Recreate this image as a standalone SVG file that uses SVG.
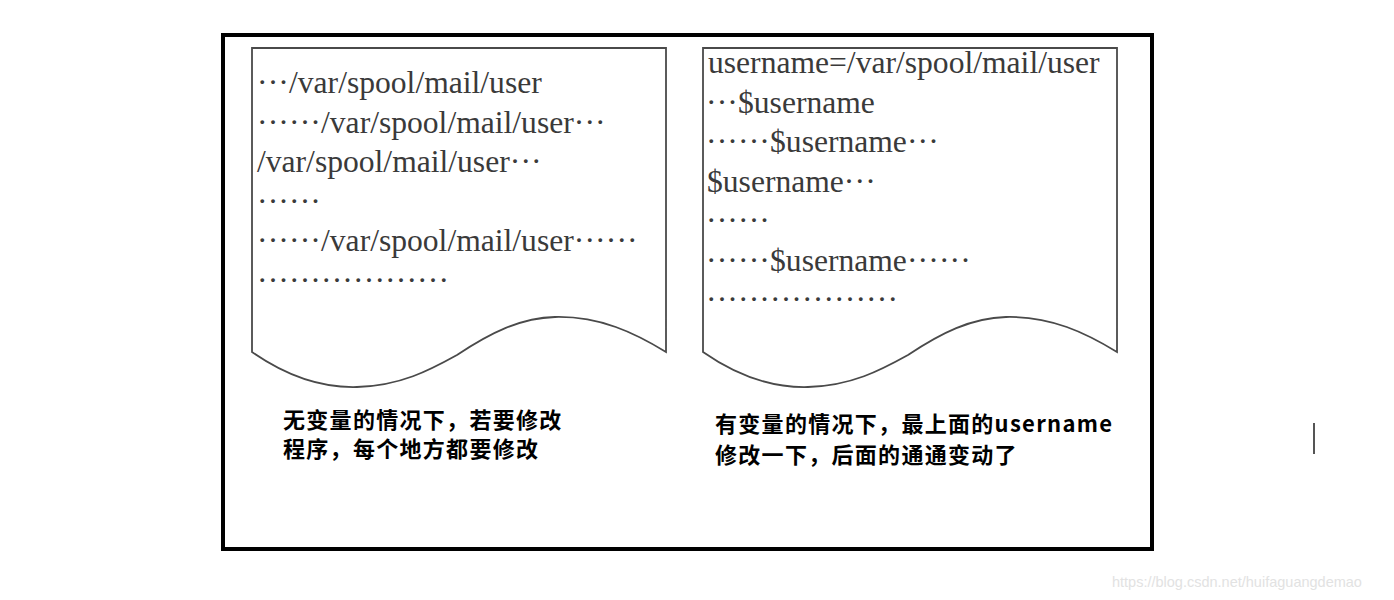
<svg xmlns="http://www.w3.org/2000/svg" width="1394" height="600" viewBox="0 0 1394 600">
<style>
.frame{fill:#fff;stroke:#000;stroke-width:4}
.doc{fill:#fff;stroke:#4a4a4a;stroke-width:1.8;stroke-linejoin:miter}
.t{font-family:"Liberation Serif","Times New Roman",serif;font-size:31.6px;fill:#3a3a3a}
.d{letter-spacing:0.15px}
.cap{font-family:"Noto Sans CJK SC","Microsoft YaHei",sans-serif;font-size:22px;font-weight:bold;fill:#000;letter-spacing:1.3px}
.wm{font-family:"Liberation Sans",Arial,sans-serif;font-size:14.5px;fill:#e2e2e2}
</style>
<rect width="1394" height="600" fill="#fff"/>
<rect class="frame" x="223" y="35" width="929" height="514"/>
<g id="doc-left">
<path class="doc" d="M252,48 L666,48 L666,352 C635,333 600,316 555,317 C520,318 490,333 457,355 C430,370 400,386 357,387 C320,388 285,375 252,352 Z"/>
<text class="t" x="257" y="93"><tspan class="d">···</tspan>/var/spool/mail/user</text>
<text class="t" x="257" y="132.5"><tspan class="d">······</tspan>/var/spool/mail/user<tspan class="d">···</tspan></text>
<text class="t" x="257" y="172">/var/spool/mail/user<tspan class="d">···</tspan></text>
<text class="t" x="257" y="211.5"><tspan class="d">······</tspan></text>
<text class="t" x="257" y="251"><tspan class="d">······</tspan>/var/spool/mail/user<tspan class="d">······</tspan></text>
<text class="t" x="257" y="290.5"><tspan class="d">··················</tspan></text>
</g>
<g id="doc-right">
<path class="doc" d="M703,48 L1117,48 L1117,352 C1086,333 1051,316 1006,317 C971,318 941,333 908,355 C881,370 851,386 808,387 C771,388 736,375 703,352 Z"/>
<text class="t" x="708" y="73">username=/var/spool/mail/user</text>
<text class="t" x="706" y="112.5"><tspan class="d">···</tspan>$username</text>
<text class="t" x="706" y="152"><tspan class="d">······</tspan>$username<tspan class="d">···</tspan></text>
<text class="t" x="707" y="191.5">$username<tspan class="d">···</tspan></text>
<text class="t" x="706" y="231"><tspan class="d">······</tspan></text>
<text class="t" x="706" y="270.5"><tspan class="d">······</tspan>$username<tspan class="d">······</tspan></text>
<text class="t" x="706" y="310"><tspan class="d">··················</tspan></text>
</g>
<g id="label-left">
<text class="cap" x="283" y="428">无变量的情况下，若要修改</text>
<text class="cap" x="283" y="457">程序，每个地方都要修改</text>
</g>
<g id="label-right">
<text class="cap" x="715" y="432">有变量的情况下，最上面的username</text>
<text class="cap" x="715" y="463">修改一下，后面的通通变动了</text>
</g>
<g id="connectors"></g>
<rect x="1313" y="423" width="2" height="31" fill="#555"/>
<text class="wm" x="1112" y="587">https://blog.csdn.net/huifaguangdemao</text>
</svg>
